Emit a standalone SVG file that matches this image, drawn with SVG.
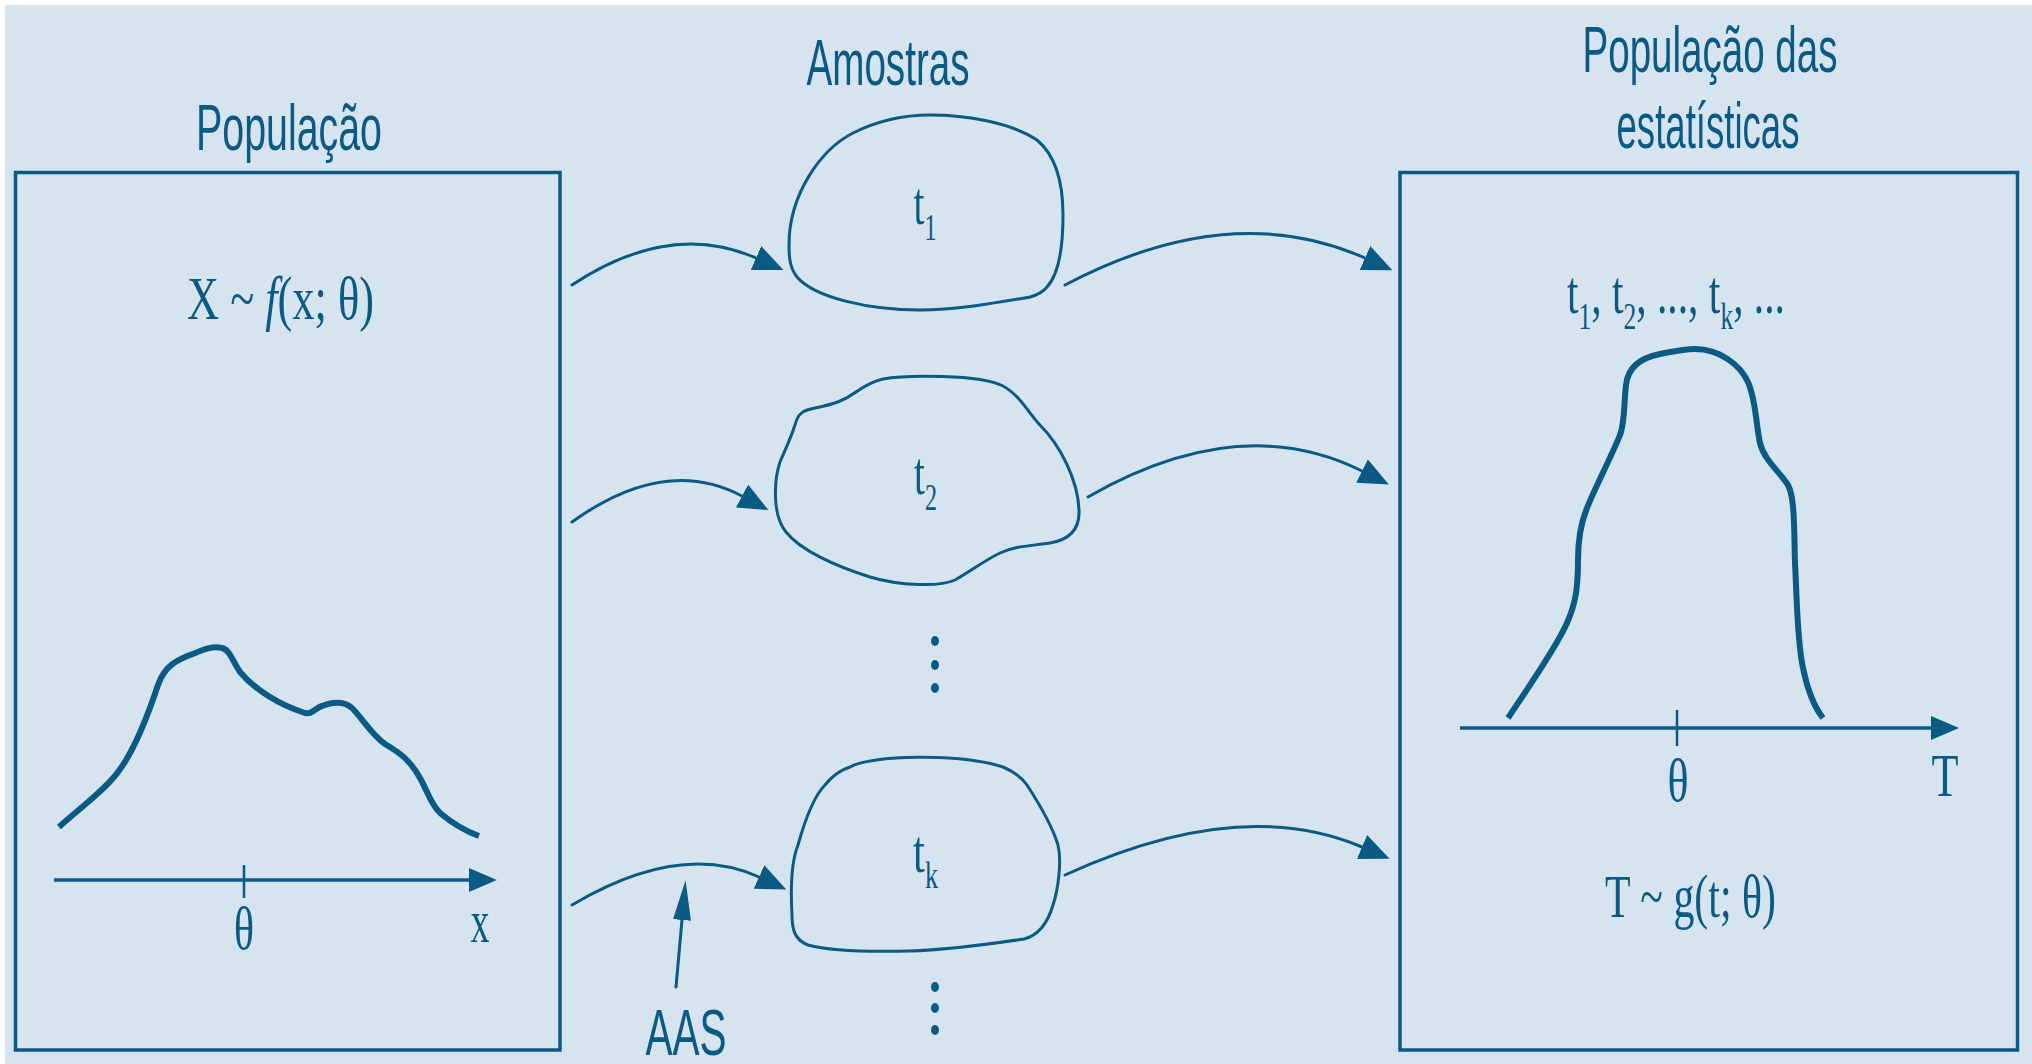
<svg xmlns="http://www.w3.org/2000/svg" width="2032" height="1064" viewBox="0 0 2032 1064">
<style>
.bg{fill:#d6e4ef}
.box{fill:none;stroke:#0b5a84;stroke-width:3.5}
.blob{fill:none;stroke:#0b5a84;stroke-width:3;stroke-linejoin:round}
.conn{fill:none;stroke:#0b5a84;stroke-width:3;stroke-linecap:round}
.curve{fill:none;stroke:#0b5a84;stroke-width:6;stroke-linejoin:round}
.axis{fill:none;stroke:#0b5a84;stroke-width:3.5}
.tick{fill:none;stroke:#0b5a84;stroke-width:2.5}
.title{font-family:"Liberation Sans",Arial,sans-serif;font-size:64px;fill:#0b5a84}
.math{font-family:"Liberation Serif","Times New Roman",serif;font-size:62px;fill:#0b5a84}
.sub{font-size:38px}
.dot{fill:#0b5a84}
</style>
<defs>
<marker id="head" markerUnits="userSpaceOnUse" viewBox="0 0 30 26" markerWidth="30" markerHeight="26" refX="0" refY="13" orient="auto">
<path d="M0,0 L30,13 L0,26 Z" fill="#0b5a84"/>
</marker>
<marker id="thinhead" markerUnits="userSpaceOnUse" viewBox="0 0 40 18" markerWidth="40" markerHeight="18" refX="0" refY="9" orient="auto">
<path d="M0,0 L40,9 L0,18 Z" fill="#0b5a84"/>
</marker>
<marker id="axishead" markerUnits="userSpaceOnUse" viewBox="0 0 28 24" markerWidth="28" markerHeight="24" refX="0" refY="12" orient="auto">
<path d="M0,0 L28,12 L0,24 Z" fill="#0b5a84"/>
</marker>
</defs>
<rect class="bg" x="5" y="5" width="2027" height="1059"/>

<g id="populacao">
<text class="title" x="289" y="150" text-anchor="middle" textLength="186" lengthAdjust="spacingAndGlyphs">População</text>
<rect class="box" x="15.5" y="172.5" width="544.5" height="877.5"/>
<text class="math" x="280.5" y="319" text-anchor="middle" textLength="187" lengthAdjust="spacingAndGlyphs">X ~ <tspan font-style="italic">f</tspan>(x; θ)</text>
<path class="curve" d="M 59 827 C 80 808, 105 790, 118 772 C 135 750, 148 715, 158 685 C 165 665, 178 660, 190 655 C 200 651, 212 645, 222 648 C 230 650, 232 660, 240 672 C 255 690, 280 705, 305 713 C 312 715, 315 708, 322 706 C 335 701, 345 702, 352 708 C 362 718, 372 735, 385 744 C 400 753, 410 760, 420 778 C 428 792, 430 803, 440 813 C 452 823, 465 831, 479 836"/>
<line class="axis" x1="54" y1="880" x2="469" y2="880" marker-end="url(#axishead)"/>
<line class="tick" x1="244" y1="865" x2="244" y2="898"/>
<text class="math" x="244" y="949" text-anchor="middle" textLength="20" lengthAdjust="spacingAndGlyphs">θ</text>
<text class="math" x="480" y="942" text-anchor="middle" textLength="19" lengthAdjust="spacingAndGlyphs">x</text>
</g>

<g id="amostras">
<text class="title" x="888" y="85" text-anchor="middle" textLength="163" lengthAdjust="spacingAndGlyphs">Amostras</text>
</g>

<g id="amostra1">
<path class="blob" d="M 789 245 C 789 195, 820 150, 853 133 C 875 122, 900 115, 930 115 C 965 115, 1010 122, 1037 140 C 1055 155, 1063 180, 1063 215 C 1063 250, 1058 275, 1047 287 C 1043 292, 1037 295, 1030 297 C 995 303, 955 310, 920 310 C 870 310, 815 298, 797 277 C 790 268, 789 258, 789 245 Z"/>
<text class="math" x="925" y="224" text-anchor="middle" textLength="23" lengthAdjust="spacingAndGlyphs">t<tspan class="sub" dy="16">1</tspan></text>
</g>

<g id="amostra2">
<path class="blob" d="M 883 379 C 905 375, 980 374, 1003 386 C 1020 395, 1030 415, 1040 425 C 1060 445, 1078 480, 1079 510 C 1080 530, 1068 540, 1050 543 C 1030 546, 1015 546, 1000 553 C 985 560, 965 575, 955 580 C 940 587, 900 586, 870 577 C 835 566, 800 550, 786 532 C 772 515, 774 480, 780 462 C 786 448, 790 440, 795 425 C 798 412, 805 410, 815 408 C 835 404, 845 400, 856 392 C 866 385, 874 381, 883 379 Z"/>
<text class="math" x="925.5" y="494" text-anchor="middle" textLength="23" lengthAdjust="spacingAndGlyphs">t<tspan class="sub" dy="16">2</tspan></text>
</g>

<g id="reticencias">
<ellipse class="dot" cx="935" cy="641" rx="4" ry="5"/>
<ellipse class="dot" cx="935" cy="665" rx="4" ry="5"/>
<ellipse class="dot" cx="935" cy="688" rx="4" ry="5"/>
<ellipse class="dot" cx="935" cy="987" rx="4" ry="5"/>
<ellipse class="dot" cx="935" cy="1008" rx="4" ry="5"/>
<ellipse class="dot" cx="935" cy="1030" rx="4" ry="5"/>
</g>

<g id="amostrak">
<path class="blob" d="M 850 767 C 870 755, 960 753, 1003 767 C 1015 772, 1022 778, 1027 785 C 1040 805, 1052 825, 1058 845 C 1062 862, 1058 890, 1053 905 C 1048 922, 1040 935, 1024 939 C 990 944, 950 950, 910 951 C 870 952, 830 951, 808 945 C 795 940, 792 930, 792 915 C 790 880, 792 860, 798 845 C 805 820, 815 795, 825 785 C 833 775, 840 770, 850 767 Z"/>
<text class="math" x="925.5" y="872" text-anchor="middle" textLength="25" lengthAdjust="spacingAndGlyphs">t<tspan class="sub" dy="16">k</tspan></text>
</g>

<g id="aas">
<text class="title" x="686" y="1055" font-size="62" text-anchor="middle" textLength="81" lengthAdjust="spacingAndGlyphs">AAS</text>
</g>

<g id="populacao-estatisticas">
<text class="title" x="1710" y="72" text-anchor="middle" textLength="255" lengthAdjust="spacingAndGlyphs">População das</text>
<text class="title" x="1708" y="148" text-anchor="middle" textLength="183" lengthAdjust="spacingAndGlyphs">estatísticas</text>
<rect class="box" x="1400" y="172.5" width="617.5" height="877.5"/>
<text class="math" x="1676" y="313" text-anchor="middle" textLength="218" lengthAdjust="spacingAndGlyphs">t<tspan class="sub" dy="16">1</tspan><tspan dy="-16">, t</tspan><tspan class="sub" dy="16">2</tspan><tspan dy="-16">, ..., t</tspan><tspan class="sub" dy="16">k</tspan><tspan dy="-16">, ...</tspan></text>
<path class="curve" d="M 1508 718 C 1525 692, 1555 650, 1567 623 C 1575 605, 1578 590, 1578 560 C 1578 540, 1580 525, 1587 508 C 1595 488, 1612 455, 1620 435 C 1625 422, 1624 400, 1626 385 C 1628 365, 1645 357, 1660 354 C 1675 351, 1685 349, 1695 349 C 1720 349, 1740 365, 1748 382 C 1756 400, 1756 425, 1760 443 C 1764 460, 1780 472, 1788 485 C 1795 498, 1794 530, 1795 563 C 1797 600, 1797 640, 1803 668 C 1808 692, 1815 708, 1823 718"/>
<line class="axis" x1="1460" y1="728" x2="1931" y2="728" marker-end="url(#axishead)"/>
<line class="tick" x1="1677" y1="710" x2="1677" y2="746"/>
<text class="math" x="1678" y="801" text-anchor="middle" textLength="21" lengthAdjust="spacingAndGlyphs">θ</text>
<text class="math" x="1945" y="796" text-anchor="middle" textLength="27" lengthAdjust="spacingAndGlyphs">T</text>
<text class="math" x="1690.5" y="917" text-anchor="middle" textLength="171" lengthAdjust="spacingAndGlyphs">T ~ g(t; θ)</text>
</g>

<g id="connectors">
<path class="conn" d="M 572 285 Q 670 220 756 258" marker-end="url(#head)"/>
<path class="conn" d="M 1065 285 Q 1230 198 1365 258" marker-end="url(#head)"/>
<path class="conn" d="M 572 522 Q 665 455 742 496" marker-end="url(#head)"/>
<path class="conn" d="M 1088 497 Q 1240 410 1362 471" marker-end="url(#head)"/>
<path class="conn" d="M 572 905 Q 680 841 759 877" marker-end="url(#head)"/>
<path class="conn" d="M 1065 875 Q 1240 795 1362 847" marker-end="url(#head)"/>
<path class="conn" d="M 676 987 L 682 920" marker-end="url(#thinhead)"/>
</g>
</svg>
